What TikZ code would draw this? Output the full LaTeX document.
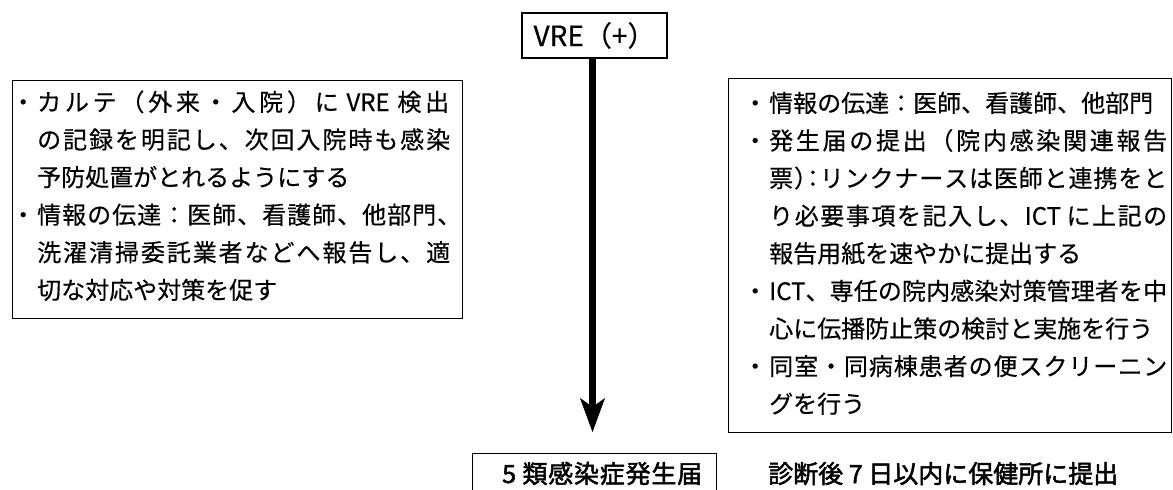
\documentclass[tikz,border=0pt]{standalone}
\usepackage{fontspec}
\setmainfont{Noto Sans CJK JP}[FakeBold=0.4]
\newfontfamily\jpbold{Noto Sans CJK JP}[FakeBold=2]
\newfontfamily\halt{Noto Sans CJK JP}[RawFeature=+halt,FakeBold=0.4]
\usetikzlibrary{arrows.meta}
\makeatletter
\newcommand\jus[2]{\hbox to #1{\let\jus@first\relax\@tfor\jus@t:=#2\do{\ifx\jus@first\relax\let\jus@first\empty\else\hskip0pt plus 1fil\relax\fi\jus@t}}}
\makeatother
\newcommand\bul{\llap{・\kern2pt}}
\tikzset{
  box/.style={draw, line width=1.2pt, inner sep=0pt, anchor=north west},
  ln/.style={anchor=base west, inner sep=0pt, font=\fontsize{24}{24}\selectfont},
  bln/.style={anchor=base west, inner sep=0pt, font=\jpbold\fontsize{25}{25}\selectfont},
}
\begin{document}
\begin{tikzpicture}[x=1pt,y=-1pt]
\useasboundingbox (0,0) rectangle (1173,490);
\fill[white] (0,0) rectangle (1173,490);
\clip (0,0) rectangle (1173,490);
% top box
\node[draw, line width=1.2pt, inner sep=0pt, minimum width=145pt, minimum height=45pt, font=\fontsize{28}{28}\selectfont] (vre) at (594.5,35.5) {VRE（+）};
% left box
\node[box, minimum width=450pt, minimum height=238pt] (lbox) at (12,80) {};
\node[ln] (l1) at (37,111)   {\bul\jus{412pt}{カルテ（外来・入院）に{\,VRE\,}検出}};
\node[ln] (l2) at (37,148.6) {\jus{413pt}{の記録を明記し、次回入院時も感染}};
\node[ln] (l3) at (37,186.2) {予防処置がとれるようにする};
\node[ln] (l4) at (37,223.8) {\bul\jus{424pt}{情報の伝達：医師、看護師、他部門、}};
\node[ln] (l5) at (37,261.4) {\jus{413pt}{洗濯清掃委託業者などへ報告し、適}};
\node[ln] (l6) at (37,299)   {切な対応や対策を促す};
% right box
\node[box, minimum width=443pt, minimum height=354pt] (rbox) at (728,78) {};
\node[ln] (r1) at (769,112)   {\bul 情報の伝達：医師、看護師、他部門};
\node[ln] (r2) at (769,149.6) {\bul\jus{398pt}{発生届の提出（院内感染関連報告}};
\node[ln] (r3) at (769,187.2) {\jus{398pt}{票{{\halt ）}}{{\halt ：}}リンクナースは医師と連携をと}};
\node[ln] (r4) at (769,224.8) {\jus{398pt}{り必要事項を記入し、{ICT\,}に上記の}};
\node[ln] (r5) at (769,262.4) {報告用紙を速やかに提出する};
\node[ln] (r6) at (769,300)   {\bul\jus{398pt}{{ICT}、専任の院内感染対策管理者を中}};
\node[ln] (r7) at (769,337.6) {心に伝播防止策の検討と実施を行う};
\node[ln] (r8) at (769,375.2) {\bul\jus{398pt}{同室・同病棟患者の便スクリーニン}};
\node[ln] (r9) at (769,412.8) {グを行う};
% arrow
\coordinate (tip) at (592.5,432);
\draw[line width=7pt, -{Stealth[length=34pt,width=25pt,inset=9pt,line width=0.5pt]}] (vre.south -| tip) -- (tip);
% bottom
\node[box, minimum width=244pt, minimum height=60pt] (bbox) at (472,453) {};
\node[bln] (b1) at (502,483) {\jus{200pt}{{5\ }類感染症発生届}};
\node[bln] (b2) at (768,483) {診断後 7 日以内に保健所に提出};
\end{tikzpicture}
\end{document}
